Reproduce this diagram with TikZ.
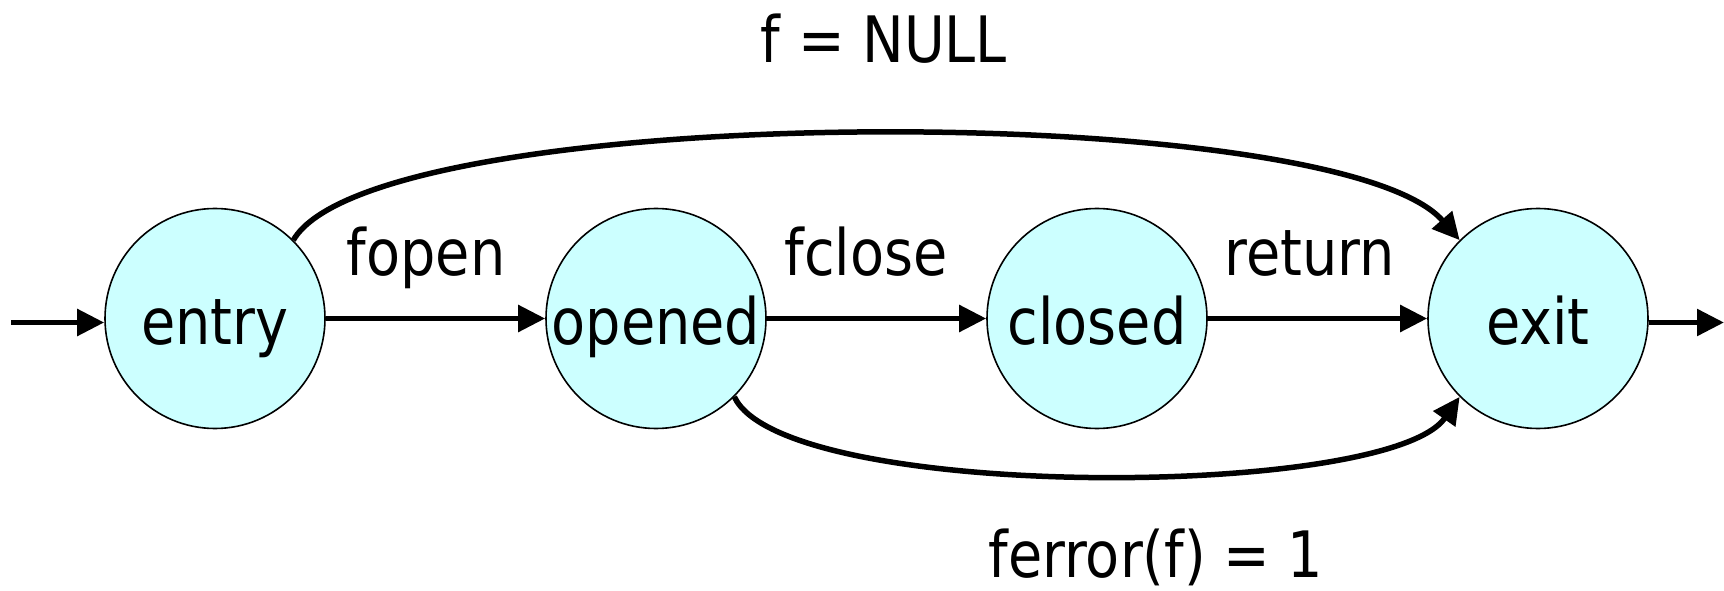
\documentclass[tikz,border=0pt]{standalone}
\usepackage{fontspec}
\setmainfont[FakeStretch=0.87]{DejaVu Sans}
\usetikzlibrary{arrows.meta}
\definecolor{statefill}{RGB}{204,255,255}
\begin{document}
\begin{tikzpicture}[x=1pt,y=1pt,
  font=\fontsize{64}{70}\selectfont,
  state/.style={circle, draw=black, line width=1.6pt, fill=statefill,
    minimum size=220pt, inner sep=0pt, text height=56pt, text depth=5pt},
  trans/.style={line width=5.5pt, -{Triangle[length=27pt,width=26pt]}},
  lbl/.style={anchor=base, inner sep=0pt}]
\useasboundingbox (0,0) rectangle (1724,590);
\node[state] (entry)  at (215,271.5)  {entry};
\node[state] (opened) at (656,271.5)  {opened};
\node[state] (closed) at (1097,271.5) {closed};
\node[state] (exit)   at (1538,271.5) {exit};
\coordinate (in)  at (11,267.5);
\coordinate (out) at (1724,267.5);
\draw[trans] (in) -- (in -| entry.west);
\draw[trans] (entry) -- (opened);
\draw[trans] (opened) -- (closed);
\draw[trans] (closed) -- (exit);
\draw[trans] (out -| exit.east) -- (out);
\draw[trans] (entry.45) .. controls +(81,140) and +(-124,142) .. (exit.135);
\draw[trans] (opened.-45) .. controls +(49,-105) and +(-72,-103) .. (exit.-135);
\node[lbl] (lfopen)  at (426,314) {fopen};
\node[lbl] (lfclose) at (866,314) {fclose};
\node[lbl] (lreturn) at (1310,314) {return};
\node[lbl] (lnull)   at (884,527) {f = NULL};
\node[lbl] (lferror) at (1156,13) {ferror(f) = 1};
\end{tikzpicture}
\end{document}
